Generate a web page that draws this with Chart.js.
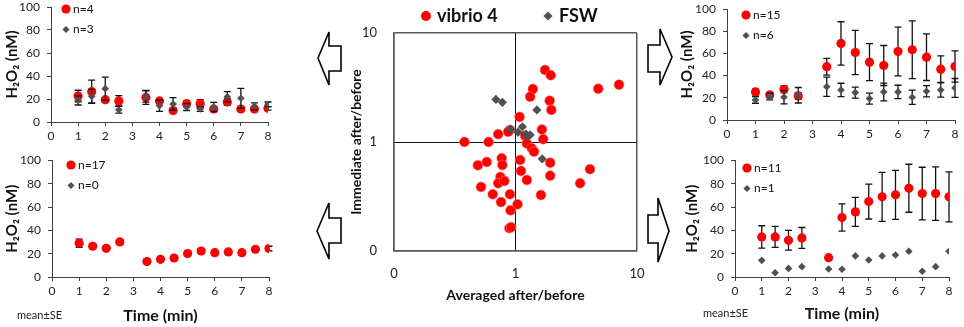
<!DOCTYPE html>
<html>
<head>
<meta charset="utf-8">
<script src="https://cdn.jsdelivr.net/npm/chart.js@4.4.0/dist/chart.umd.min.js"></script>
<style>
  body { margin: 0; background: #fff; font-family: Lato, "Open Sans", sans-serif; }
  #wrap { position: relative; width: 964px; height: 327px; overflow: hidden; }
  canvas { position: absolute; }
  .note { position: absolute; font-size: 11px; color: #222; line-height: 12px; }
  svg { position: absolute; left: 0; top: 0; }
</style>
</head>
<body>
<div id="wrap">
  <svg width="964" height="327">
    <g fill="#fff" stroke="#000" stroke-width="1.6">
      <polygon points="318,58 329,32 329,46 341,46 341,71 329,71 329,85" />
      <polygon points="317,231 329,203 329,218 341,218 341,243 329,243 329,259" />
      <polygon points="672,57 660,29 660,45 648,45 648,72 660,72 660,85" />
      <polygon points="669,231 658,198 658,215 648,215 648,243 658,243 658,262" />
    </g>
  </svg>
  <canvas id="tl" width="290" height="150" style="left:0;top:0"></canvas>
  <canvas id="bl" width="290" height="177" style="left:0;top:150px"></canvas>
  <canvas id="tr" width="287" height="150" style="left:677px;top:0"></canvas>
  <canvas id="br" width="282" height="177" style="left:682px;top:150px"></canvas>
  <canvas id="mid" width="300" height="327" style="left:348px;top:0"></canvas>
  <div class="note" style="left:17px;top:309px">mean±SE</div>
  <div class="note" style="left:703px;top:307px">mean±SE</div>
</div>
<script>
// sampling times (min)
var times = [1, 1.5, 2, 2.5, 3.5, 4, 4.5, 5, 5.5, 6, 6.5, 7, 7.5, 8];
var xTickValues = [0, 1, 2, 3, 4, 5, 6, 7, 8];
var yTickValues = [0, 20, 40, 60, 80, 100];

// top left
var tlVibrio    = [22.6, 26.4, 19.4, 18.3, 21.4, 18.3, 9.9, 15.9, 15.9, 11.3, 17.4, 11.3, 11.3, 11.9];
var tlVibrioErr = [5, 10, 2, 4.6, 6, 2, 1.5, 2.5, 3.5, 2, 3, 1.5, 1.5, 1.5];
var tlFsw       = [18.8, 22.3, 29.0, 10.7, 22.3, 14.2, 15.7, 13.0, 11.3, 13.0, 22.0, 20.6, 13.6, 15.4];
var tlFswErr    = [4, 6, 10, 3, 5, 5, 5.5, 3, 2, 4, 4.5, 8.7, 3, 2];

// bottom left
var blVibrio    = [29.0, 26.4, 24.6, 30.1, 13.2, 15.2, 16.3, 20.1, 22.3, 20.9, 21.5, 20.9, 23.8, 24.4];
var blVibrioErr = [3.5, 2, 2, 2, 1.5, 1.5, 1.5, 2, 2, 1.5, 2, 2, 2, 2];
var blFsw       = [];
var blFswErr    = [];

// top right
var trVibrio    = [25.3, 22.6, 27.7, 21.7, 48.0, 69.0, 60.8, 52.1, 49.1, 61.7, 63.3, 56.6, 45.8, 48.2];
var trVibrioErr = [2.5, 2, 3, 3, 7.6, 19.5, 20, 16.7, 18, 22, 26, 21, 12, 14];
var trFsw       = [18.1, 21.1, 20.5, 22.3, 30.0, 27.1, 24.7, 19.3, 25.3, 25.3, 20.5, 25.9, 27.1, 28.9];
var trFswErr    = [3, 3, 6, 7, 8.7, 6, 5, 5, 8, 6, 6.5, 5, 6.5, 8.5];

// bottom right
var brVibrio    = [34.4, 34.4, 31.5, 33.5, 16.6, 51.0, 55.9, 64.8, 68.8, 70.5, 76.2, 71.6, 71.6, 68.8];
var brVibrioErr = [9.6, 9, 8.5, 9, 1, 11.7, 12.5, 15, 21, 21, 20.6, 22.6, 23, 21.5];
var brFsw       = [14.3, 3.7, 7.4, 8.9, 6.9, 6.6, 18.1, 14.6, 18.1, 18.9, 22.1, 4.9, 8.9, 22.1];
var brFswErr    = [];

// centre: averaged vs immediate after/before ratios
var vibrioAvg = [1.75, 1.95, 4.80, 7.11, 1.39, 1.32, 1.91, 1.97, 1.08, 0.72, 0.90, 0.87, 1.65, 1.69, 1.20,
                 0.38, 0.60, 1.24, 1.36, 1.42, 0.77, 1.09, 1.93, 0.49, 0.58, 0.78, 1.11, 1.93, 4.10, 3.40,
                 0.75, 0.72, 0.81, 1.24, 0.52, 0.65, 0.90, 1.62, 0.76, 1.04, 0.91, 0.89, 0.92];
var vibrioImm = [4.58, 4.09, 3.08, 3.36, 3.06, 2.60, 2.39, 1.97, 1.70, 1.18, 1.29, 1.24, 1.30, 1.06, 1.14,
                 1.00, 1.00, 0.97, 0.875, 0.815, 0.71, 0.684, 0.646, 0.611, 0.655, 0.615, 0.542, 0.491, 0.562, 0.418,
                 0.477, 0.418, 0.439, 0.448, 0.387, 0.331, 0.331, 0.326, 0.281, 0.268, 0.236, 0.162, 0.165];
var fswAvg = [0.69, 0.78, 1.50, 0.91, 1.14, 1.05, 1.22, 1.32, 1.26, 1.66];
var fswImm = [2.46, 2.31, 1.97, 1.31, 1.38, 1.23, 1.18, 1.16, 1.12, 0.70];
var scatterTicks = [0.1, 1, 10];
var scatterTickLabels = ['0', '1', '10'];

var RED = '#ff0000', GREY = '#505050';
Chart.defaults.font.family = 'Lato, "Open Sans", sans-serif';
Chart.defaults.color = '#222';

// error bars, drawn just before each dataset's markers
var errorBars = {
  id: 'errorBars',
  beforeDatasetDraw: function (chart, args) {
    var ds = chart.data.datasets[args.index];
    if (!ds.errors || !ds.errors.length) return;
    var xs = chart.scales.x, ys = chart.scales.y, ctx = chart.ctx;
    ctx.save();
    ctx.strokeStyle = '#111';
    ctx.lineWidth = 1.3;
    ds.data.forEach(function (p, i) {
      var e = ds.errors[i];
      if (!e) return;
      var px = xs.getPixelForValue(p.x);
      var top = ys.getPixelForValue(p.y + e), bot = ys.getPixelForValue(p.y - e);
      ctx.beginPath();
      ctx.moveTo(px, top); ctx.lineTo(px, bot);
      ctx.moveTo(px - 3.5, top); ctx.lineTo(px + 3.5, top);
      ctx.moveTo(px - 3.5, bot); ctx.lineTo(px + 3.5, bot);
      ctx.stroke();
    });
    ctx.restore();
  }
};

// legend drawn inside the plot like the original
var innerLegend = {
  id: 'innerLegend',
  afterDraw: function (chart, args, opts) {
    if (!opts.items) return;
    var ctx = chart.ctx;
    opts.items.forEach(function (it) {
      var ds = chart.data.datasets[it.dataset];
      ctx.save();
      ctx.fillStyle = ds.backgroundColor;
      Chart.helpers.drawPoint(ctx, { pointStyle: ds.pointStyle, radius: it.r, rotation: 0, borderWidth: 0 }, it.x, it.y);
      ctx.fillStyle = '#111';
      ctx.font = opts.font;
      ctx.textBaseline = 'middle';
      ctx.fillText(it.text, it.x + opts.gap, it.y);
      ctx.restore();
    });
  }
};
Chart.register(errorBars, innerLegend);

// fixed axis box size, and no extra room for overhanging labels
function fixSize(prop, size) {
  return function (s) {
    s[prop] = size;
    s.paddingTop = s.paddingBottom = s.paddingLeft = s.paddingRight = 0;
  };
}

function timePanel(id, vib, vibErr, fsw, fswErr, nText, lay) {
  new Chart(document.getElementById(id), {
    type: 'scatter',
    data: {
      datasets: [{
        label: 'vibrio 4',
        data: vib.map(function (v, i) { return { x: times[i], y: v }; }),
        errors: vibErr,
        pointStyle: 'circle', pointRadius: 4.6, pointHoverRadius: 4.6,
        backgroundColor: RED, borderColor: RED, borderWidth: 0, order: 2
      }, {
        label: 'FSW',
        data: fsw.map(function (v, i) { return { x: times[i], y: v }; }),
        errors: fswErr,
        pointStyle: 'rectRot', pointRadius: 3.8, pointHoverRadius: 3.8,
        backgroundColor: GREY, borderColor: GREY, borderWidth: 0, order: 1
      }]
    },
    options: {
      responsive: false,
      animation: false,
      layout: { padding: { top: lay.top, right: lay.right, left: 0, bottom: 0 } },
      plugins: {
        legend: { display: false },
        tooltip: { enabled: false },
        innerLegend: {
          font: '12px Lato, "Open Sans", sans-serif', gap: 7,
          items: [
            { dataset: 0, text: nText[0], x: lay.legX, y: lay.legY, r: 4.6 },
            { dataset: 1, text: nText[1], x: lay.legX, y: lay.legY + 20.5, r: 3.6 }
          ]
        }
      },
      scales: {
        x: {
          type: 'linear', min: 0, max: 8,
          afterBuildTicks: function (s) { s.ticks = xTickValues.map(function (v) { return { value: v }; }); },
          afterFit: fixSize('height', lay.xh),
          grid: { drawOnChartArea: false, drawTicks: true, tickLength: 4, color: '#404040' },
          border: { color: '#404040', width: 1 },
          ticks: { font: { size: 12 }, padding: 3, autoSkip: false, maxRotation: 0 },
          title: {
            display: lay.xTitle, text: 'Time (min)', color: '#111',
            font: { size: 16, weight: 'bold' }, padding: { top: 0, bottom: lay.xTitleBottom }
          }
        },
        y: {
          type: 'linear', min: 0, max: 100,
          afterBuildTicks: function (s) { s.ticks = yTickValues.map(function (v) { return { value: v }; }); },
          afterFit: fixSize('width', lay.yw),
          grid: { drawOnChartArea: false, drawTicks: true, tickLength: 4, color: '#404040' },
          border: { color: '#404040', width: 1 },
          ticks: { font: { size: 12 }, padding: 7, autoSkip: false },
          title: {
            display: true, text: 'H₂O₂ (nM)', color: '#111',
            font: { size: 15, weight: 'bold' }, padding: { top: lay.yTitlePad, bottom: 0 }
          }
        }
      }
    }
  });
}

timePanel('tl', tlVibrio, tlVibrioErr, tlFsw, tlFswErr, ['n=4', 'n=3'],
  { top: 7, right: 22, xh: 28, yw: 51, xTitle: false, xTitleBottom: 0, yTitlePad: 3, legX: 66, legY: 9 });
timePanel('bl', blVibrio, blVibrioErr, blFsw, blFswErr, ['n=17', 'n=0'],
  { top: 10.5, right: 21, xh: 50, yw: 52, xTitle: true, xTitleBottom: 2, yTitlePad: 3, legX: 71, legY: 15 });
timePanel('tr', trVibrio, trVibrioErr, trFsw, trFswErr, ['n=15', 'n=6'],
  { top: 9, right: 9, xh: 30, yw: 50, xTitle: false, xTitleBottom: 0, yTitlePad: 1, legX: 69, legY: 15 });
timePanel('br', brVibrio, brVibrioErr, brFsw, brFswErr, ['n=11', 'n=1'],
  { top: 10.5, right: 15, xh: 50, yw: 53, xTitle: true, xTitleBottom: 4, yTitlePad: 1, legX: 65, legY: 18 });

// centre scatter, log-log
function gridColor(c) { return c.tick && c.tick.value === 1 ? '#111' : '#595959'; }
function gridWidth(c) { return c.tick && c.tick.value === 1 ? 1 : 1.5; }

new Chart(document.getElementById('mid'), {
  type: 'scatter',
  data: {
    datasets: [{
      label: 'vibrio 4',
      data: vibrioAvg.map(function (v, i) { return { x: v, y: vibrioImm[i] }; }),
      pointStyle: 'circle', pointRadius: 5, pointHoverRadius: 5,
      backgroundColor: RED, borderColor: 'rgba(255,140,140,0.9)', borderWidth: 0.6, order: 2
    }, {
      label: 'FSW',
      data: fswAvg.map(function (v, i) { return { x: v, y: fswImm[i] }; }),
      pointStyle: 'rectRot', pointRadius: 4.6, pointHoverRadius: 4.6,
      backgroundColor: GREY, borderColor: GREY, borderWidth: 0, order: 1
    }]
  },
  options: {
    responsive: false,
    animation: false,
    layout: { padding: { top: 33, right: 11, left: 0, bottom: 0 } },
    plugins: {
      legend: { display: false },
      tooltip: { enabled: false },
      innerLegend: {
        font: 'bold 18px Lato, "Open Sans", sans-serif', gap: 11,
        items: [
          { dataset: 0, text: 'vibrio 4', x: 78, y: 16, r: 5 },
          { dataset: 1, text: 'FSW', x: 200, y: 16, r: 4.6 }
        ]
      }
    },
    scales: {
      x: {
        type: 'logarithmic', min: 0.1, max: 10,
        afterBuildTicks: function (s) { s.ticks = scatterTicks.map(function (v) { return { value: v }; }); },
        afterFit: fixSize('height', 76),
        grid: { drawTicks: false, color: gridColor, lineWidth: gridWidth },
        border: { color: '#595959', width: 1.5 },
        ticks: { font: { size: 13 }, padding: 15, autoSkip: false, maxRotation: 0,
                 callback: function (v, i) { return scatterTickLabels[i]; } },
        title: { display: true, text: 'Averaged after/before', color: '#111',
                 font: { size: 14, weight: 'bold' }, padding: { top: 0, bottom: 23 } }
      },
      y: {
        type: 'logarithmic', min: 0.1, max: 10,
        afterBuildTicks: function (s) { s.ticks = scatterTicks.map(function (v) { return { value: v }; }); },
        afterFit: fixSize('width', 46),
        grid: { drawTicks: false, color: gridColor, lineWidth: gridWidth },
        border: { color: '#595959', width: 1.5 },
        ticks: { font: { size: 13 }, padding: 17, autoSkip: false,
                 callback: function (v, i) { return scatterTickLabels[i]; } },
        title: { display: true, text: 'Immediate after/before', color: '#111',
                 font: { size: 14, weight: 'bold' }, padding: { top: 0, bottom: 0 } }
      }
    }
  }
});
</script>
</body>
</html>
